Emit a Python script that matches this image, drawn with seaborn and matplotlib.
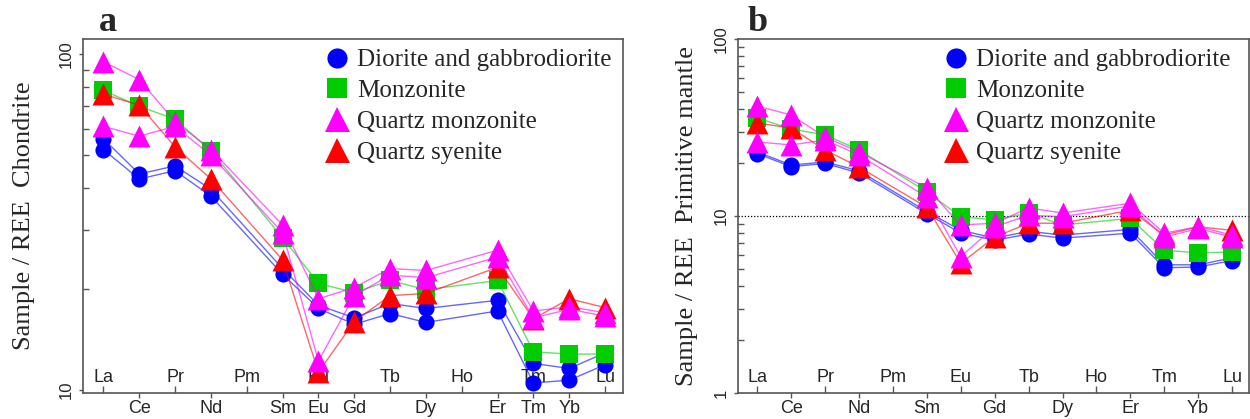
import numpy as np
import pandas as pd
import matplotlib
matplotlib.use("Agg")
import matplotlib.pyplot as plt
import seaborn as sns
from matplotlib.lines import Line2D
from matplotlib.ticker import FixedLocator, NullFormatter

# ---------------- data ----------------
elements = ["La", "Ce", "Pr", "Nd", "Pm", "Sm", "Eu", "Gd", "Tb", "Dy", "Ho", "Er", "Tm", "Yb", "Lu"]
top_row = ["La", "", "Pr", "", "Pm", "", "Eu", "", "Tb", "", "Ho", "", "Tm", "", "Lu"]
bottom_row_a = ["", "Ce", "", "Nd", "", "Sm", "Eu", "Gd", "", "Dy", "", "Er", "Tm", "Yb", ""]
bottom_row_b = ["", "Ce", "", "Nd", "", "Sm", "", "Gd", "", "Dy", "", "Er", "", "Yb", ""]

nan = np.nan
# Chondrite-normalised (panel a)
chon_dio1 = [56, 44, 46.5, 39.6, nan, 23.0, 17.9, 16.4, 18.1, 17.5, nan, 18.5, 12.0, 11.6, 12.9]
chon_dio2 = [52, 42.5, 45, 37.8, nan, 22.1, 17.5, 15.7, 16.9, 15.9, nan, 17.2, 10.5, 10.7, 11.9]
chon_mon = [78, 70, 64, 51.6, nan, 28.4, 20.8, 19.5, 21.2, 19.9, nan, 21.2, 13.0, 12.8, 12.8]
chon_qm1 = [95, 84, 63, 52, nan, 31.0, 18.7, 20.2, 23.0, 22.7, nan, 26.1, 17.2, 17.7, 17.0]
chon_qm2 = [61, 57, 61, 50, nan, 29.4, 12.2, 19.1, 22.0, 21.6, nan, 24.9, 16.4, 17.4, 16.6]
chon_qs = [76, 70.5, 53, 42.5, nan, 24.4, 11.3, 16.0, 19.1, 19.4, nan, 23.2, 16.3, 18.7, 17.6]

# Primitive-mantle-normalised (panel b)
pm_dio1 = [23.0, 19.4, 20.2, 18.0, nan, 10.6, 8.3, 7.5, 8.2, 7.8, nan, 8.4, 5.3, 5.3, 5.8]
pm_dio2 = [22.5, 19.0, 19.8, 17.5, nan, 10.3, 8.0, 7.3, 7.9, 7.5, nan, 8.0, 5.1, 5.15, 5.6]
pm_mon = [35.8, 31.0, 28.7, 23.6, nan, 13.7, 9.9, 9.5, 10.4, 8.9, nan, 9.7, 6.4, 6.2, 6.25]
pm_qm1 = [41.8, 37.2, 27.9, 23.0, nan, 14.4, 8.9, 9.1, 11.1, 10.4, nan, 11.8, 8.0, 8.7, 7.8]
pm_qm2 = [26.2, 25.2, 26.9, 22.1, nan, 12.8, 5.9, 8.7, 10.1, 9.9, nan, 11.4, 7.6, 8.5, 7.6]
pm_qs = [33.5, 31.4, 23.6, 18.9, nan, 11.2, 5.4, 7.6, 9.1, 9.1, nan, 10.8, 7.8, 8.7, 8.3]

groups = ["Diorite and gabbrodiorite", "Monzonite", "Quartz monzonite", "Quartz syenite"]

# ---------------- style ----------------
sns.set_style("ticks")
plt.rcParams["font.family"] = ["Liberation Sans", "DejaVu Sans"]
SERIF = ["Liberation Serif", "DejaVu Serif"]
SPINE = "#555555"

styles = {
    "Diorite and gabbrodiorite": dict(marker="o", color="#0000ff", line=(0, 0, 1, 0.6), s=135, ms=14.5),
    "Monzonite": dict(marker="s", color="#00cc00", line=(0, 0.8, 0, 0.6), s=150, ms=14.5),
    "Quartz monzonite": dict(marker="^", color="#ff00ff", line=(1, 0, 1, 0.6), s=250, ms=18),
    "Quartz syenite": dict(marker="^", color="#ff0000", line=(1, 0, 0, 0.6), s=250, ms=18),
}
draw_order = ["Diorite and gabbrodiorite", "Monzonite", "Quartz syenite", "Quartz monzonite"]


def make_df(samples):
    rows = []
    for name, grp, vals in samples:
        for i, v in enumerate(vals):
            rows.append(dict(pos=i, element=elements[i], value=v, sample=name, group=grp))
    return pd.DataFrame(rows).dropna()


df_a = make_df([
    ("d1", groups[0], chon_dio1), ("d2", groups[0], chon_dio2),
    ("m1", groups[1], chon_mon),
    ("q1", groups[2], chon_qm1), ("q2", groups[2], chon_qm2),
    ("s1", groups[3], chon_qs),
])
df_b = make_df([
    ("d1", groups[0], pm_dio1), ("d2", groups[0], pm_dio2),
    ("m1", groups[1], pm_mon),
    ("q1", groups[2], pm_qm1), ("q2", groups[2], pm_qm2),
    ("s1", groups[3], pm_qs),
])

fig = plt.figure(figsize=(12.5, 4.19), dpi=100)
W, H = 1250, 419


def add_ax(l, r, t, b):
    return fig.add_axes([l / W, 1 - b / H, (r - l) / W, (b - t) / H])


ax_a = add_ax(83, 623, 39, 393)
ax_b = add_ax(738, 1249, 39, 393)


def draw(ax, df, bottom_row, ylim, majors, ylabel, leg_x, label_x):
    for k, g in enumerate(draw_order):
        st = styles[g]
        d = df[df["group"] == g]
        sns.lineplot(data=d, x="pos", y="value", units="sample", estimator=None,
                     color=st["line"], lw=1.0, ax=ax, legend=False, sort=True, zorder=2 + k)
        sns.scatterplot(data=d, x="pos", y="value", marker=st["marker"], s=st["s"],
                        color=st["color"], edgecolor=st["color"], linewidth=0,
                        ax=ax, legend=False, zorder=2.5 + k)
    ax.set_yscale("log")
    ax.set_ylim(*ylim)
    ax.set_xlim(-0.57, 14.5)

    # y ticks
    ax.yaxis.set_major_locator(FixedLocator(majors))
    ax.set_yticklabels([str(int(m)) for m in majors])
    minors = []
    for dec in [1, 10]:
        for s in range(2, 10):
            v = s * dec
            if ylim[0] < v < ylim[1]:
                minors.append(v)
    ax.yaxis.set_minor_locator(FixedLocator(minors))
    ax.yaxis.set_minor_formatter(NullFormatter())
    ax.tick_params(axis="y", which="major", direction="out", length=3, width=1,
                   color=SPINE, labelsize=12, pad=4, labelrotation=90)
    ax.tick_params(axis="y", which="minor", direction="in", length=4.5, width=1, color=SPINE)
    for lab in ax.get_yticklabels():
        lab.set_va("center")

    # x ticks: bottom row (major, outward) and top row (minor, inward)
    bpos = [i for i, t in enumerate(bottom_row) if t]
    tpos = [i for i, t in enumerate(top_row) if t and not bottom_row[i]]
    ax.xaxis.set_major_locator(FixedLocator(bpos))
    ax.set_xticklabels([bottom_row[i] for i in bpos])
    ax.xaxis.set_minor_locator(FixedLocator(tpos))
    ax.xaxis.set_minor_formatter(NullFormatter())
    ax.tick_params(axis="x", which="major", direction="out", length=3.5, width=1,
                   color=SPINE, labelsize=13, pad=1.5)
    ax.tick_params(axis="x", which="minor", direction="in", length=5, width=1, color=SPINE)
    for i, t in enumerate(top_row):
        if t:
            ax.annotate(t, xy=(i, 0), xycoords=("data", "axes fraction"),
                        xytext=(0, 11.5), textcoords="offset points",
                        ha="center", va="center", fontsize=13, zorder=1)

    ax.set_xlabel("")
    ax.set_ylabel(ylabel, fontsize=19, family=SERIF)
    ax.yaxis.set_label_coords(label_x, 0.5)
    for sp in ax.spines.values():
        sp.set_color(SPINE)
        sp.set_linewidth(1.2)

    handles = []
    for g in groups:
        st = styles[g]
        handles.append(Line2D([], [], ls="", marker=st["marker"], color=st["color"],
                              markersize=st["ms"], markeredgewidth=0))
    ax.legend(handles, groups, loc="upper left", bbox_to_anchor=(leg_x, 0.972),
              frameon=False, borderpad=0, borderaxespad=0, handlelength=1.0,
              handletextpad=0.3, labelspacing=0.33,
              prop=dict(family=SERIF, size=18))


draw(ax_a, df_a, bottom_row_a, (9.8, 111), [10, 100], "Sample / REE  Chondrite", 0.447, -0.088)
draw(ax_b, df_b, bottom_row_b, (1, 100), [1, 10, 100], "Sample / REE  Primitive mantle", 0.402, -0.078)
ax_b.axhline(10, color="black", ls=(0, (1, 1.5)), lw=0.9, zorder=1)

fig.text(108 / W, 1 - 31 / H, "a", ha="center", va="baseline", fontsize=26,
         fontweight="bold", family=SERIF)
fig.text(758 / W, 1 - 31 / H, "b", ha="center", va="baseline", fontsize=26,
         fontweight="bold", family=SERIF)

fig.savefig("out.png", dpi=100)
